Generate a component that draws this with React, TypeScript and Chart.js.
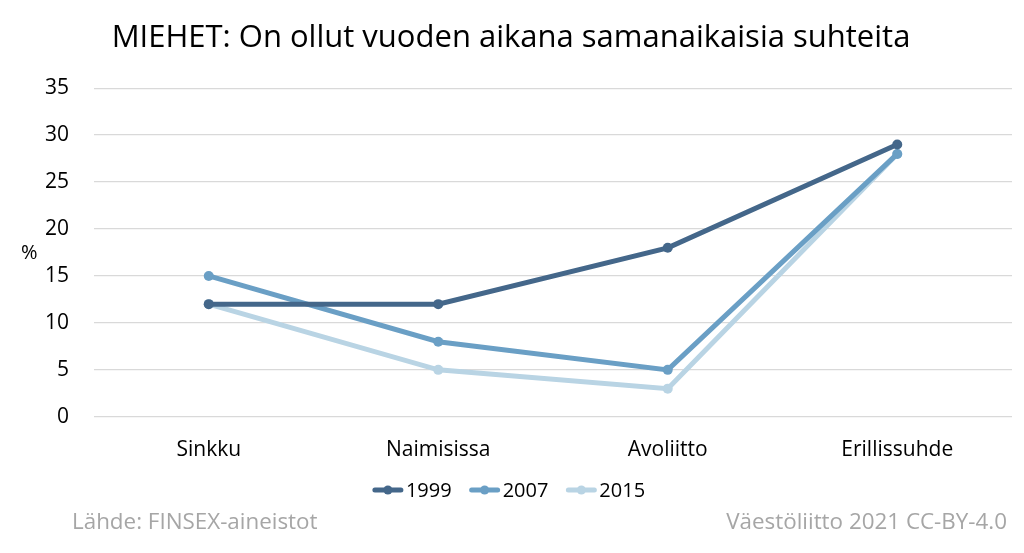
import React, { useEffect, useRef } from "react";
import { Chart, registerables } from "chart.js";

Chart.register(...registerables);

const categories = ["Sinkku", "Naimisissa", "Avoliitto", "Erillissuhde"];
const seriesNames = ["1999", "2007", "2015"];
const values1999 = [12, 12, 18, 29];
const values2007 = [15, 8, 5, 28];
const values2015 = [12, 5, 3, 28];
const seriesColors = ["#44678A", "#6A9FC5", "#B9D4E4"];
const yTicks = [0, 5, 10, 15, 20, 25, 30, 35];
const titleText = "MIEHET: On ollut vuoden aikana samanaikaisia suhteita";
const yAxisLabel = "%";
const sourceText = "Lähde: FINSEX-aineistot";
const licenseText = "Väestöliitto 2021 CC-BY-4.0";

const FONT = "'Open Sans', Lato, sans-serif";

const extraText = {
  id: "extraText",
  afterDraw(chart: any) {
    const ctx = chart.ctx;
    ctx.save();
    // y-axis unit label
    ctx.fillStyle = "#000";
    ctx.font = `20px ${FONT}`;
    ctx.textAlign = "left";
    ctx.textBaseline = "middle";
    ctx.fillText(yAxisLabel, 21, 253);

    // legend
    const legendY = 490;
    const markerW = 30;
    const gapMarkerText = 3;
    const gapItems = 18;
    ctx.font = `20px ${FONT}`;
    const widths = seriesNames.map((n) => ctx.measureText(n).width);
    const total =
      widths.reduce((a, b) => a + b, 0) +
      seriesNames.length * (markerW + gapMarkerText) +
      gapItems * (seriesNames.length - 1);
    let x = 509 - total / 2;
    seriesNames.forEach((n, i) => {
      ctx.strokeStyle = seriesColors[i];
      ctx.lineWidth = 5;
      ctx.lineCap = "round";
      ctx.beginPath();
      ctx.moveTo(x + 2, legendY);
      ctx.lineTo(x + markerW - 2, legendY);
      ctx.stroke();
      ctx.fillStyle = seriesColors[i];
      ctx.beginPath();
      ctx.arc(x + markerW / 2, legendY, 4.5, 0, Math.PI * 2);
      ctx.fill();
      x += markerW + gapMarkerText;
      ctx.fillStyle = "#000";
      ctx.textAlign = "left";
      ctx.fillText(n, x, legendY + 1);
      x += widths[i] + gapItems;
    });

    // footer
    ctx.fillStyle = "#A6A6A6";
    ctx.font = `22.4px ${FONT}`;
    ctx.textAlign = "left";
    ctx.fillText(sourceText, 72, 523);
    ctx.textAlign = "right";
    ctx.fillText(licenseText, 1007, 523);
    ctx.restore();
  },
};

export default function App() {
  const ref = useRef<HTMLCanvasElement | null>(null);
  useEffect(() => {
    document.body.style.margin = "0";
    const all = [values1999, values2007, values2015];
    const chart = new Chart(ref.current!, {
      type: "line",
      data: {
        labels: categories,
        datasets: seriesNames.map((name, i) => ({
          label: name,
          data: all[i],
          borderColor: seriesColors[i],
          backgroundColor: seriesColors[i],
          borderWidth: 5,
          pointRadius: 5,
          pointHoverRadius: 5,
          pointBackgroundColor: seriesColors[i],
          pointBorderWidth: 0,
          tension: 0,
          fill: false,
        })),
      },
      options: {
        responsive: false,
        animation: false,
        layout: { padding: { left: 10, right: 12, top: 0, bottom: 69 } },
        plugins: {
          title: {
            display: true,
            text: titleText,
            color: "#000",
            font: { family: FONT, size: 31, weight: "normal" },
            padding: { top: 20, bottom: 31 },
          },
          legend: { display: false },
          tooltip: { enabled: false },
        },
        scales: {
          x: {
            offset: true,
            grid: { display: false, drawTicks: false },
            border: { display: false },
            ticks: { color: "#000", font: { family: FONT, size: 21 }, padding: 21 },
          },
          y: {
            min: 0,
            max: 35,
            afterBuildTicks: (scale: any) => {
              scale.ticks = yTicks.map((v) => ({ value: v }));
            },
            afterFit: (scale: any) => {
              scale.width = 84;
            },
            grid: { color: "#D9D9D9", lineWidth: 1.3, drawTicks: false },
            border: { display: false },
            ticks: { color: "#000", font: { family: FONT, size: 21 }, padding: 25 },
          },
        },
      },
      plugins: [extraText],
    });
    return () => chart.destroy();
  }, []);
  return (
    <div style={{ position: "absolute", left: 0, top: 0, width: 1024, height: 553, background: "#fff" }}>
      <canvas ref={ref} width={1024} height={553} style={{ display: "block" }} />
    </div>
  );
}
